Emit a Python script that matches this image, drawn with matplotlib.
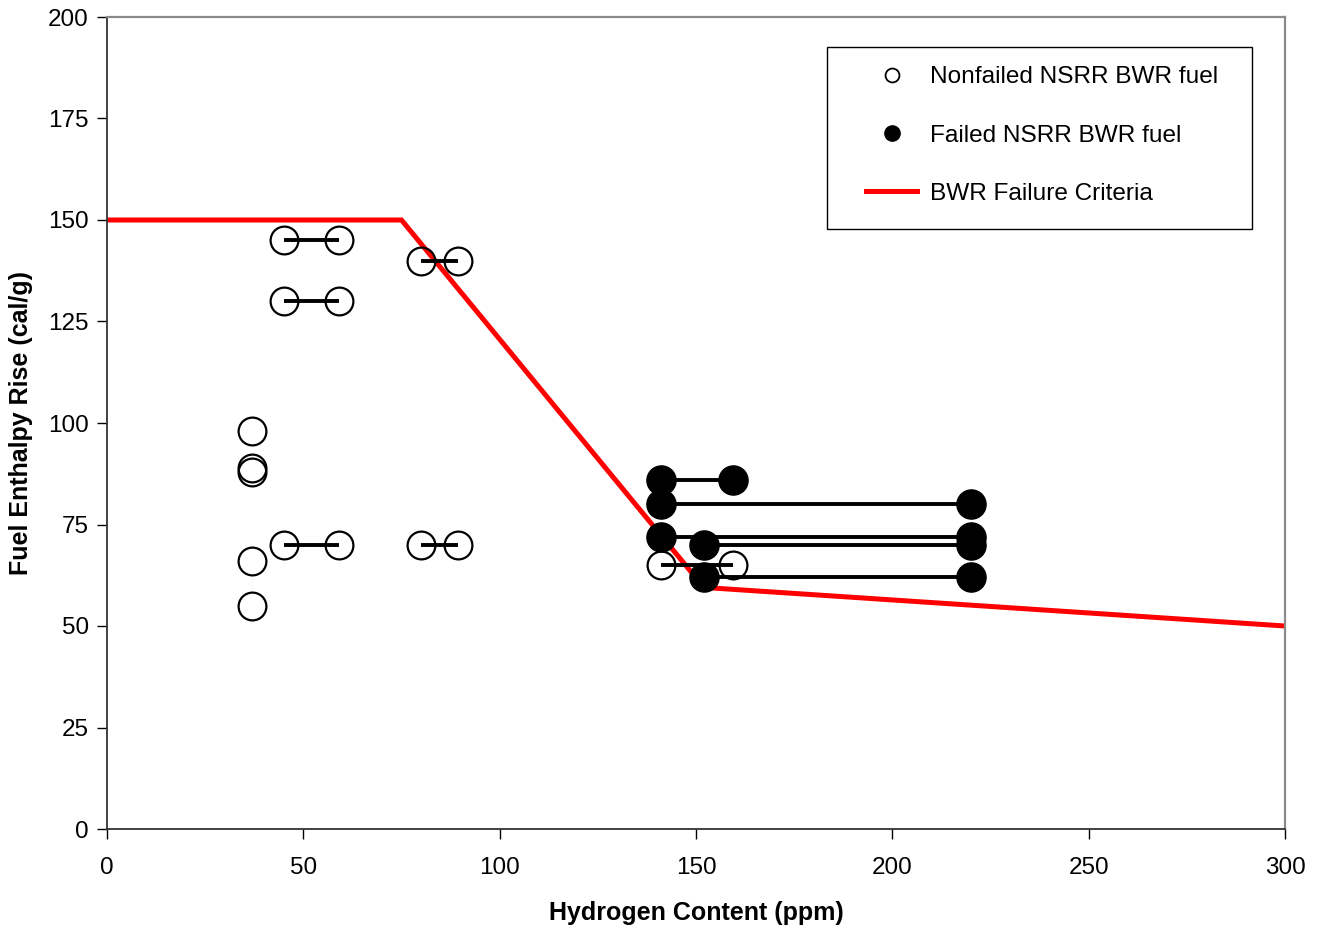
import matplotlib
matplotlib.use("Agg")
import matplotlib.pyplot as plt
from matplotlib.patches import Rectangle
from matplotlib.lines import Line2D

# ---- data ----
nonfailed_x = [37, 37, 37, 37, 37, 45, 59, 45, 59, 45, 59, 80, 89.5, 80, 89.5, 141, 159.5]
nonfailed_y = [98, 89, 88, 66, 55, 145, 145, 130, 130, 70, 70, 140, 140, 70, 70, 65, 65]

failed_x = [141, 159.5, 141, 220, 141, 220, 152, 220, 152, 220]
failed_y = [86, 86, 80, 80, 72, 72, 70, 70, 62, 62]

# horizontal connecting segments (same rod, range of hydrogen content)
seg_x1 = [45, 45, 45, 80, 80, 141, 141, 141, 141, 152, 152]
seg_x2 = [59, 59, 59, 89.5, 89.5, 159.5, 159.5, 220, 220, 220, 220]
seg_y = [145, 130, 70, 140, 70, 65, 86, 80, 72, 70, 62]

criteria_x = [0, 75, 152, 300]
criteria_y = [150, 150, 59.5, 50]

x_ticks = [0, 50, 100, 150, 200, 250, 300]
y_ticks = [0, 25, 50, 75, 100, 125, 150, 175, 200]

plt.rcParams['font.family'] = ['Liberation Sans', 'DejaVu Sans']

fig = plt.figure(figsize=(13.22, 9.31), dpi=100)
W, H = 1322, 931
ax = fig.add_axes([107 / W, 1 - 829 / H, (1285 - 107) / W, (829 - 17) / H])

ax.plot(criteria_x, criteria_y, color='#ff0000', lw=3.6, zorder=2,
        solid_joinstyle='miter', label='BWR Failure Criteria')

for x1, x2, y in zip(seg_x1, seg_x2, seg_y):
    ax.plot([x1, x2], [y, y], color='black', lw=2.8, zorder=3, solid_capstyle='butt')

ax.plot(nonfailed_x, nonfailed_y, linestyle='none', marker='o', markersize=20,
        markerfacecolor='none', markeredgecolor='black', markeredgewidth=1.6, zorder=4)
ax.plot(failed_x, failed_y, linestyle='none', marker='o', markersize=21,
        markerfacecolor='black', markeredgecolor='black', zorder=5)

ax.set_xlim(0, 300)
ax.set_ylim(0, 200)
ax.set_xticks(x_ticks)
ax.set_yticks(y_ticks)
ax.tick_params(axis='both', direction='out', length=7, width=1, labelsize=17.5, colors='black')
ax.tick_params(axis='x', pad=13)
ax.tick_params(axis='y', pad=6)
for s in ['top', 'right']:
    ax.spines[s].set_color('#8a8a8a')
    ax.spines[s].set_linewidth(1.6)
for s in ['left', 'bottom']:
    ax.spines[s].set_color('#333333')
    ax.spines[s].set_linewidth(1.3)

ax.set_xlabel('Hydrogen Content (ppm)', fontsize=18, fontweight='bold', labelpad=16)
ax.set_ylabel('Fuel Enthalpy Rise (cal/g)', fontsize=18, fontweight='bold', labelpad=11)

handles = [
    Line2D([], [], linestyle='none', marker='o', markersize=10, markerfacecolor='none',
           markeredgecolor='black', markeredgewidth=1.3),
    Line2D([], [], linestyle='none', marker='o', markersize=11, markerfacecolor='black',
           markeredgecolor='black'),
    Line2D([], [], color='#ff0000', lw=3.6),
]
labels = ['Nonfailed NSRR BWR fuel', 'Failed NSRR BWR fuel', 'BWR Failure Criteria']
fig.legend(handles, labels, loc='center', bbox_to_anchor=(1042 / W, 1 - 135.5 / H),
           frameon=False, fontsize=17.6, borderpad=0, handlelength=2.1,
           handletextpad=0.5, labelspacing=1.48)
fig.patches.append(Rectangle((827 / W, 1 - 229 / H), (1252 - 827) / W, (229 - 47) / H,
                             transform=fig.transFigure, fill=False, edgecolor='black',
                             linewidth=1.0))

fig.savefig('out.png', dpi=100)
